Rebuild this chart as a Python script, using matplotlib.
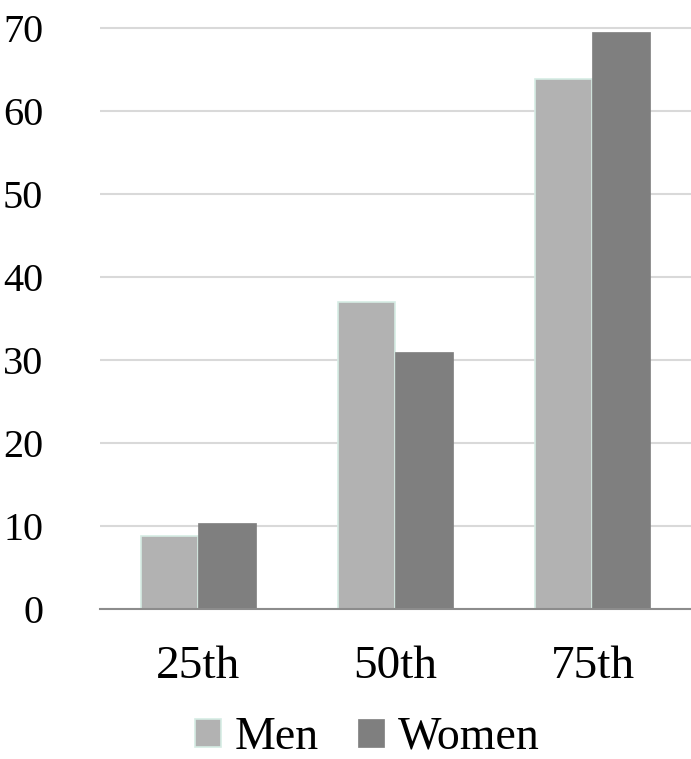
import matplotlib.pyplot as plt
import numpy as np

CATEGORIES = ["25th", "50th", "75th"]
MEN = [8.8, 37.0, 63.9]
WOMEN = [10.4, 31.0, 69.5]
YTICKS = [0, 10, 20, 30, 40, 50, 60, 70]

plt.rcParams["font.family"] = ["Liberation Serif", "DejaVu Serif"]

fig = plt.figure(figsize=(6.91, 7.59), dpi=100)
ax = fig.add_axes([0.1447, 0.1976, 0.8553, 0.7677])

x = np.arange(len(CATEGORIES))
width = 0.29
ax.bar(x - width / 2, MEN, width, color="#b2b2b2", edgecolor="#d6ece4",
       linewidth=1.2, label="Men", zorder=3)
ax.bar(x + width / 2, WOMEN, width, color="#7f7f7f", edgecolor="#7f7f7f",
       linewidth=0.5, label="Women", zorder=3)

ax.set_xlim(-0.5, 2.5)
ax.set_ylim(0, 70.2)
ax.set_yticks(YTICKS)
ax.set_xticks(x)
ax.set_xticklabels(CATEGORIES)
ax.yaxis.grid(True, color="#d9d9d9", linewidth=1.5, zorder=0)
ax.set_axisbelow(True)

for side in ["top", "right", "left"]:
    ax.spines[side].set_visible(False)
ax.spines["bottom"].set_color("#8c8c8c")
ax.spines["bottom"].set_linewidth(1.5)
ax.spines["bottom"].set_zorder(4)

ax.tick_params(axis="y", length=0, pad=41, labelsize=29)
ax.tick_params(axis="x", length=0, pad=26, labelsize=34)

fig.legend(loc="center", bbox_to_anchor=(0.532, 0.028), ncol=2,
           frameon=False, fontsize=33, handlelength=0.57, handleheight=0.57,
           handletextpad=0.3, columnspacing=0.85, borderpad=0)

fig.savefig("out.png", dpi=100)
